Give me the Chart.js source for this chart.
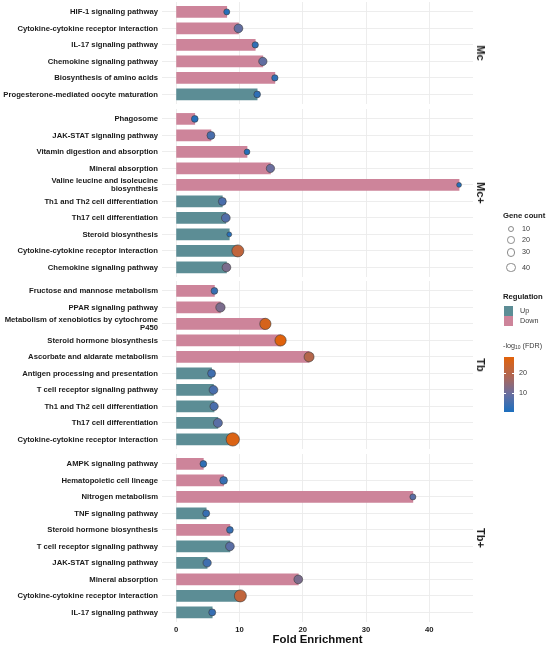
<!DOCTYPE html>
<html>
<head>
<meta charset="utf-8">
<script src="https://cdn.jsdelivr.net/npm/chart.js@4.4.1/dist/chart.umd.min.js"></script>
<style>
  body { margin: 0; background: #fff; font-family: "Liberation Sans", Arial, sans-serif; }
  #page { position: relative; width: 550px; height: 646px; overflow: hidden; }
  .panel { position: absolute; left: 0; width: 473px; }
  .strip { position: absolute; left: 481px; font-weight: bold; font-size: 11px; color: #1a1a1a;
           white-space: nowrap; transform: translate(-50%, -50%) rotate(90deg); will-change: transform; }
  .lg { position: absolute; font-size: 7.2px; color: #3a3a3a; white-space: nowrap; line-height: 1; will-change: transform; }
  .lg-title { font-weight: bold; font-size: 7.7px; color: #1a1a1a; }
  .circle { position: absolute; border: 0.8px solid #8a8a8a; border-radius: 50%; background: #fff; box-sizing: border-box; }
  .key { position: absolute; width: 9px; height: 10px; }
</style>
</head>
<body>
<div id="page">
  <div class="panel" id="p0"><canvas id="c0"></canvas></div>
  <div class="panel" id="p1"><canvas id="c1"></canvas></div>
  <div class="panel" id="p2"><canvas id="c2"></canvas></div>
  <div class="panel" id="p3"><canvas id="c3"></canvas></div>
</div>
<script>
// ---- Data ----
const panelNames = ["Mc", "Mc+", "Tb", "Tb+"];

const mcLabels = [
  "HIF-1 signaling pathway",
  "Cytokine-cytokine receptor interaction",
  "IL-17 signaling pathway",
  "Chemokine signaling pathway",
  "Biosynthesis of amino acids",
  "Progesterone-mediated oocyte maturation",
];
const mcFold = [8.0, 9.85, 12.5, 13.7, 15.6, 12.8];
const mcCount = [8, 30, 10, 26, 10, 13];
const mcFdr = [2, 9, 3, 9, 3, 3];
const mcReg = ["Down", "Down", "Down", "Down", "Down", "Up"];

const mcpLabels = [
  "Phagosome",
  "JAK-STAT signaling pathway",
  "Vitamin digestion and absorption",
  "Mineral absorption",
  ["Valine leucine and isoleucine", "biosynthesis"],
  "Th1 and Th2 cell differentiation",
  "Th17 cell differentiation",
  "Steroid biosynthesis",
  "Cytokine-cytokine receptor interaction",
  "Chemokine signaling pathway",
];
const mcpFold = [2.95, 5.5, 11.2, 14.9, 44.7, 7.3, 7.85, 8.4, 9.75, 7.95];
const mcpCount = [13, 23, 6, 26, 1, 23, 30, 1, 68, 30];
const mcpFdr = [2, 6, 2, 10, 2, 6, 7, 2, 22, 12];
const mcpReg = ["Down", "Down", "Down", "Down", "Down", "Up", "Up", "Up", "Up", "Up"];

const tbLabels = [
  "Fructose and mannose metabolism",
  "PPAR signaling pathway",
  ["Metabolism of xenobiotics by cytochrome", "P450"],
  "Steroid hormone biosynthesis",
  "Ascorbate and aldarate metabolism",
  "Antigen processing and presentation",
  "T cell receptor signaling pathway",
  "Th1 and Th2 cell differentiation",
  "Th17 cell differentiation",
  "Cytokine-cytokine receptor interaction",
];
const tbFold = [6.05, 7.0, 14.1, 16.5, 21.0, 5.6, 5.9, 6.0, 6.6, 8.95];
const tbCount = [13, 36, 58, 58, 43, 23, 30, 26, 33, 86];
const tbFdr = [4, 12, 26, 28, 20, 5, 6, 6, 8, 27];
const tbReg = ["Down", "Down", "Down", "Down", "Down", "Up", "Up", "Up", "Up", "Up"];

const tbpLabels = [
  "AMPK signaling pathway",
  "Hematopoietic cell lineage",
  "Nitrogen metabolism",
  "TNF signaling pathway",
  "Steroid hormone biosynthesis",
  "T cell receptor signaling pathway",
  "JAK-STAT signaling pathway",
  "Mineral absorption",
  "Cytokine-cytokine receptor interaction",
  "IL-17 signaling pathway",
];
const tbpFold = [4.3, 7.5, 37.4, 4.75, 8.5, 8.5, 4.9, 19.3, 10.15, 5.7];
const tbpCount = [13, 21, 8, 15, 13, 30, 26, 30, 68, 15];
const tbpFdr = [3, 4, 8, 4, 4, 8, 5, 12, 22, 4];
const tbpReg = ["Down", "Down", "Down", "Up", "Down", "Up", "Up", "Down", "Up", "Up"];

const xTicks = [0, 10, 20, 30, 40];
const sizeBreaks = [10, 20, 30, 40];
const regLevels = ["Up", "Down"];
const fdrTicks = [10, 20];

// ---- Styles / scales ----
const regColors = { Up: "#5C8D95", Down: "#CD849A" };
const fdrRange = [0.8, 28.3];
const fdrStops = [
  [0.8, "#1C6FBE"],
  [10, "#6B6E9E"],
  [18, "#AA675B"],
  [28.3, "#E2620A"],
];
const labelFont = { family: "'Liberation Sans', Arial, sans-serif", size: 7.7, weight: "bold", lineHeight: 1.1 };
const gridColor = "#EBEBEB";

function hexToRgb(h) {
  return [parseInt(h.slice(1, 3), 16), parseInt(h.slice(3, 5), 16), parseInt(h.slice(5, 7), 16)];
}

function fdrColor(v) {
  for (let i = 0; i < fdrStops.length - 1; i++) {
    const [v0, c0] = fdrStops[i];
    const [v1, c1] = fdrStops[i + 1];
    if (v <= v1 || i === fdrStops.length - 2) {
      const t = Math.max(0, Math.min(1, (v - v0) / (v1 - v0)));
      const a = hexToRgb(c0), b = hexToRgb(c1);
      const c = a.map((x, k) => Math.round(x + (b[k] - x) * t));
      return "rgb(" + c.join(",") + ")";
    }
  }
}

// point radius from gene count (area grows with count)
function radius(count) {
  return Math.sqrt(5.4 + 0.453 * count);
}

// ---- Panels ----
const rowPx = 16.5;
const panels = [
  [mcLabels, mcFold, mcCount, mcFdr, mcReg],
  [mcpLabels, mcpFold, mcpCount, mcpFdr, mcpReg],
  [tbLabels, tbFold, tbCount, tbFdr, tbReg],
  [tbpLabels, tbpFold, tbpCount, tbpFdr, tbpReg],
];
const axisHeight = 24.5;

function makePanel(k, labels, fold, count, fdr, reg, last) {
  const n = labels.length;
  const idx = labels.map((_, i) => i);
  const points = idx.map((i) => ({ x: fold[i], y: i }));

  return new Chart(document.getElementById("c" + k), {
    data: {
      datasets: [
        {
          type: "bar",
          indexAxis: "y",
          data: points,
          backgroundColor: reg.map((r) => regColors[r]),
          borderWidth: 0,
          barThickness: 11,
          order: 2,
        },
        {
          type: "scatter",
          data: points,
          pointRadius: count.map(radius),
          pointBackgroundColor: fdr.map(fdrColor),
          pointBorderColor: "#3a3a3a",
          pointBorderWidth: 0.6,
          clip: false,
          order: 1,
        },
      ],
    },
    options: {
      responsive: true,
      maintainAspectRatio: false,
      animation: false,
      layout: { padding: 0, autoPadding: false },
      plugins: { legend: { display: false }, tooltip: { enabled: false } },
      scales: {
        x: {
          type: "linear",
          bounds: "data",
          offset: false,
          min: -2.23,
          max: 46.9,
          afterBuildTicks: (s) => { s.ticks = xTicks.map((v) => ({ value: v })); },
          afterFit: (s) => {
            s.height = last ? axisHeight : 0;
            s.paddingLeft = s.paddingRight = 0;
          },
          ticks: { display: last, font: labelFont, color: "#1a1a1a", padding: 3 },
          grid: { color: gridColor, lineWidth: 0.9, drawTicks: false, offset: false },
          border: { display: false },
          title: {
            display: last,
            text: "Fold Enrichment",
            font: { family: "'Liberation Sans', Arial, sans-serif", size: 11.4, weight: "bold" },
            color: "#111",
            padding: { top: 0, bottom: 0 },
          },
        },
        y: {
          type: "linear",
          bounds: "data",
          offset: false,
          reverse: true,
          min: -0.6,
          max: n - 0.4,
          afterBuildTicks: (s) => { s.ticks = idx.map((v) => ({ value: v })); },
          afterFit: (s) => {
            s.width = 162;
            s.paddingTop = s.paddingBottom = 0;
          },
          ticks: {
            autoSkip: false,
            font: labelFont,
            color: "#1a1a1a",
            padding: 4,
            callback: (v, i) => labels[i],
          },
          grid: { color: gridColor, lineWidth: 0.9, drawTicks: false, offset: false },
          border: { display: false },
        },
      },
    },
  });
}

const page = document.getElementById("page");
let panelTop = 2;
panels.forEach((p, k) => {
  const h = (p[0].length + 0.2) * rowPx;
  const last = k === panels.length - 1;
  const box = document.getElementById("p" + k);
  box.style.top = panelTop + "px";
  box.style.height = h + (last ? axisHeight : 0) + "px";

  const strip = document.createElement("div");
  strip.className = "strip";
  strip.textContent = panelNames[k];
  strip.style.top = panelTop + h / 2 + "px";
  page.appendChild(strip);

  makePanel(k, p[0], p[1], p[2], p[3], p[4], last);
  panelTop += h + 4.2;
});

// ---- Legends ----
function addText(txt, x, y, cls, html) {
  const d = document.createElement("div");
  d.className = "lg " + (cls || "");
  if (html) d.innerHTML = txt; else d.textContent = txt;
  d.style.left = x + "px";
  d.style.top = y + "px";
  d.style.transform = "translateY(-50%)";
  page.appendChild(d);
  return d;
}

// Gene count
addText("Gene count", 503, 216, "lg-title");
const sizeY = [229, 240, 252.3, 267.5];
sizeBreaks.forEach((b, i) => {
  const r = radius(b);
  const c = document.createElement("div");
  c.className = "circle";
  c.style.width = c.style.height = 2 * r + "px";
  c.style.left = 511 - r + "px";
  c.style.top = sizeY[i] - r + "px";
  page.appendChild(c);
  addText(String(b), 522, sizeY[i]);
});

// Regulation
addText("Regulation", 503, 296.5, "lg-title");
regLevels.forEach((lvl, i) => {
  const k = document.createElement("div");
  k.className = "key";
  k.style.background = regColors[lvl];
  k.style.left = "504px";
  k.style.top = 305.5 + i * 10.5 + "px";
  page.appendChild(k);
  addText(lvl, 520, 310.5 + i * 10.5);
});

// -log10 (FDR) colour bar
addText("-log<sub style='font-size:5px;vertical-align:-1px'>10</sub> (FDR)", 503, 346, "", true);
const barTop = 356.7, barH = 55, barX = 504, barW = 10;
const pct = (v) => ((v - fdrRange[0]) / (fdrRange[1] - fdrRange[0])) * 100;
const bar = document.createElement("div");
bar.style.position = "absolute";
bar.style.left = barX + "px";
bar.style.top = barTop + "px";
bar.style.width = barW + "px";
bar.style.height = barH + "px";
bar.style.background = "linear-gradient(to top, " +
  fdrStops.map((s) => s[1] + " " + pct(s[0]).toFixed(1) + "%").join(", ") + ")";
page.appendChild(bar);
fdrTicks.forEach((t) => {
  const y = barTop + barH * (1 - pct(t) / 100);
  [barX, barX + barW - 2].forEach((x) => {
    const m = document.createElement("div");
    m.style.position = "absolute";
    m.style.left = x + "px";
    m.style.top = y - 0.4 + "px";
    m.style.width = "2px";
    m.style.height = "0.8px";
    m.style.background = "#fff";
    page.appendChild(m);
  });
  addText(String(t), 519, y);
});
</script>
</body>
</html>
